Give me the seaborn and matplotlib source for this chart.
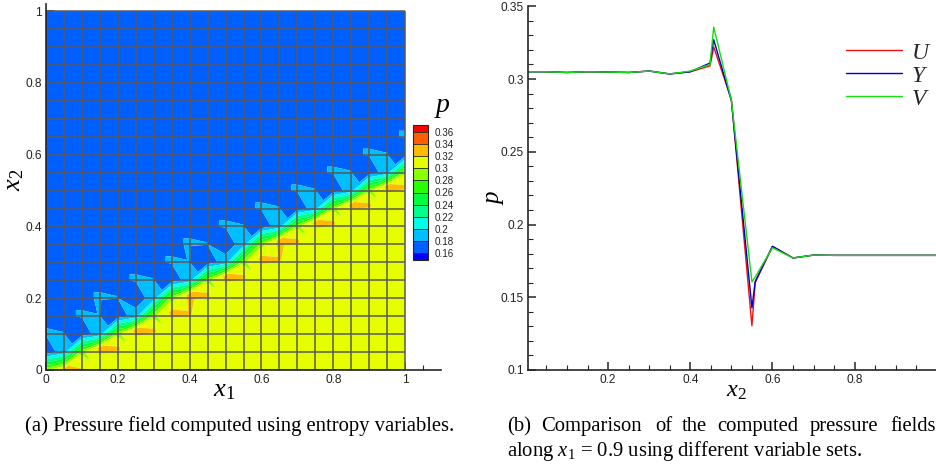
import matplotlib
matplotlib.use("Agg")
import matplotlib.pyplot as plt
import matplotlib.tri as mtri
import seaborn as sns
import pandas as pd
import numpy as np

# mesh nodes of the pressure field
x_nodes = [0.05 * i for i in range(21)]
y_nodes = [0.05 * j for j in range(21)]

# nodal pressure in thousandths, row 0 is x2 = 0
pressure_rows = [
    [295, 328, 322] + [305] * 18,
    [168, 190, 295, 325, 322] + [305] * 16,
    [181, 180.3, 168, 190, 295, 325, 322] + [305] * 14,
    [178, 178, 181, 180.3, 168, 190, 295, 325, 322] + [305] * 12,
    [178, 178, 178, 181, 180.3, 168, 190, 295, 325, 322] + [305] * 11,
    [178] * 4 + [178, 181, 180.3, 168, 190, 295, 325, 322] + [305] * 9,
    [178] * 6 + [178, 181, 180.3, 168, 190, 295, 325, 322] + [305] * 7,
    [178] * 7 + [178, 181, 180.3, 168, 190, 295, 325, 322] + [305] * 6,
    [178] * 9 + [178, 181, 180.3, 168, 190, 295, 325, 322] + [305] * 4,
    [178] * 11 + [178, 181, 180.3, 168, 190, 295, 325, 322] + [305] * 2,
    [178] * 13 + [178, 181, 180.3, 168, 190, 295, 325, 322],
    [178] * 15 + [178, 181, 180.3, 168, 190, 295],
    [178] * 17 + [178, 181, 180.3, 168],
    [178] * 19 + [178, 181],
    [178] * 21,
    [178] * 21,
    [178] * 21,
    [178] * 21,
    [178] * 21,
    [178] * 21,
    [178] * 21,
]

contour_levels = [0.16, 0.18, 0.20, 0.22, 0.24, 0.26, 0.28, 0.30, 0.32, 0.34, 0.36]
level_labels = ["0.16", "0.18", "0.2", "0.22", "0.24", "0.26", "0.28", "0.3", "0.32", "0.34", "0.36"]
band_colors = [
    "#0000ff", "#005fff", "#00bfff", "#00ffe6", "#00ff8c", "#00ff3c",
    "#28ff00", "#8cff00", "#e6ff00", "#ffbb00", "#ff5f00", "#ff0000",
]

# pressure along x1 = 0.9
x2_line = [0.005, 0.05, 0.10, 0.15, 0.20, 0.25, 0.30, 0.35, 0.40, 0.448, 0.457, 0.50,
           0.55, 0.558, 0.60, 0.65, 0.70, 0.75, 0.80, 0.85, 0.90, 0.95, 0.998]
p_u = [0.305, 0.305, 0.3045, 0.305, 0.3048, 0.3045, 0.3055, 0.3035, 0.305, 0.309, 0.322, 0.286,
       0.1304, 0.160, 0.185, 0.177, 0.179, 0.1788, 0.1788, 0.1788, 0.1788, 0.1788, 0.1788]
p_y = [0.305, 0.305, 0.3045, 0.305, 0.3048, 0.3045, 0.3055, 0.3035, 0.305, 0.311, 0.327, 0.285,
       0.1427, 0.161, 0.185, 0.177, 0.179, 0.1788, 0.1788, 0.1788, 0.1788, 0.1788, 0.1788]
p_v = [0.305, 0.305, 0.3045, 0.305, 0.3048, 0.3045, 0.3055, 0.3035, 0.3055, 0.310, 0.3357, 0.2855,
       0.1606, 0.164, 0.184, 0.177, 0.179, 0.1788, 0.1788, 0.1788, 0.1788, 0.1788, 0.1788]

left_ticks = [0, 0.2, 0.4, 0.6, 0.8, 1]
left_labels = ["0", "0.2", "0.4", "0.6", "0.8", "1"]
right_xticks = [0.2, 0.4, 0.6, 0.8]
right_xlabels = ["0.2", "0.4", "0.6", "0.8"]
right_yticks = [0.1, 0.15, 0.2, 0.25, 0.3, 0.35]
right_ylabels = ["0.1", "0.15", "0.2", "0.25", "0.3", "0.35"]

caption_a = "(a) Pressure field computed using entropy variables."
caption_b_words = ["(b)", "Comparison", "of", "the", "computed", "pressure", "fields"]
caption_b_left = [507, 541, 655, 682, 717, 810, 890]
caption_b_second = "along $x_1$ = 0.9 using different variable sets."

W, H = 936, 466
sns.set_theme(style="ticks", rc={
    "mathtext.fontset": "custom",
    "mathtext.rm": "Liberation Serif",
    "mathtext.it": "Liberation Serif:italic",
    "axes.linewidth": 1.2,
})
plt.rcParams["font.family"] = ["Liberation Sans", "DejaVu Sans"]
TICK_COLOR = "#222222"


def axes_box(left, top, right, bottom):
    # pixel box to figure fractions
    return [left / W, 1 - bottom / H, (right - left) / W, (bottom - top) / H]


def put_text(x, y, s, size, family="Liberation Serif", **kwargs):
    fig.text(x / W, 1 - y / H, s, fontsize=size, family=family, color="black", **kwargs)


def style_ticks(ax):
    ax.tick_params(which="major", direction="in", length=5.6, width=1.1, labelsize=8.6,
                   labelcolor=TICK_COLOR, pad=3)
    ax.tick_params(which="minor", direction="in", length=3.5, width=0.8)
    sns.despine(ax=ax)


fig = plt.figure(figsize=(W / 100, H / 100), dpi=100)

# left panel: contour field on the triangulated mesh
ax_field = fig.add_axes(axes_box(46, 4, 441, 370))
xx, yy = np.meshgrid(x_nodes, y_nodes)
pressure = np.array(pressure_rows, dtype=float) / 1000
# the overshoot nodes sit just above their mesh line
yy[1:] += 0.012 * (pressure[1:] > 0.32)
n = len(x_nodes)
flat_p = pressure.ravel()
triangles = []
for j in range(n - 1):
    for i in range(n - 1):
        a, b = j * n + i, j * n + i + 1
        c, d = (j + 1) * n + i + 1, (j + 1) * n + i
        # cells crossed by the shock are split along it
        if np.ptp(flat_p[[a, b, c, d]]) > 0.05:
            triangles += [[a, b, c], [a, c, d]]
        else:
            triangles += [[a, b, d], [b, c, d]]
tri = mtri.Triangulation(xx.ravel(), yy.ravel(), triangles)
field = ax_field.tricontourf(tri, flat_p, levels=contour_levels, colors=band_colors,
                             extend="both", antialiased=True, zorder=1)
ax_field.vlines(x_nodes, 0, 1, color="#585858", lw=1.1, zorder=2)
ax_field.hlines(y_nodes, 0, 1, color="#585858", lw=1.1, zorder=2)
ax_field.set_xlim(0, 1.1)
ax_field.set_ylim(0, 1.02)
ax_field.set_xticks(left_ticks, left_labels)
ax_field.set_yticks(left_ticks, left_labels)
ax_field.set_xticks(np.arange(0, 1.06, 0.05), minor=True)
ax_field.set_yticks(np.arange(0, 1.01, 0.05), minor=True)
style_ticks(ax_field)

cax = fig.add_axes(axes_box(412.5, 125, 428, 260))
bar = fig.colorbar(field, cax=cax, extendrect=True, extendfrac=0.055, drawedges=True)
bar.set_ticks(contour_levels, labels=level_labels)
bar.ax.tick_params(length=0, labelsize=7.1, labelcolor=TICK_COLOR, pad=5)
bar.outline.set_linewidth(0.8)
bar.dividers.set_linewidth(0.6)

# right panel: line comparison
ax_line = fig.add_axes(axes_box(528, 6.3, 936, 370))
lines = pd.DataFrame({"x2": x2_line, "$U$": p_u, "$Y$": p_y, "$V$": p_v})
lines = lines.melt(id_vars="x2", var_name="variables", value_name="p")
sns.lineplot(data=lines, x="x2", y="p", hue="variables", estimator=None, sort=False,
             palette={"$U$": "#f01010", "$Y$": "#0000c0", "$V$": "#10e010"},
             lw=1.0, ax=ax_line)
ax_line.set_xlim(0.005, 0.998)
ax_line.set_ylim(0.1, 0.35)
ax_line.set_xticks(right_xticks, right_xlabels)
ax_line.set_yticks(right_yticks, right_ylabels)
ax_line.set_xticks(np.arange(0.05, 1.0, 0.05), minor=True)
ax_line.set_yticks(np.arange(0.1, 0.351, 0.01), minor=True)
ax_line.set_xlabel("")
ax_line.set_ylabel("")
style_ticks(ax_line)
ax_line.legend(loc="upper left", bbox_to_anchor=(0.75, 0.935), frameon=False, fontsize=17,
               handlelength=2.4, handletextpad=0.35, labelspacing=0.04, borderpad=0, title=None)

# axis names and captions
put_text(224, 391, "$x_1$", 19, ha="center", va="center")
put_text(15, 180, "$x_2$", 19, ha="center", va="center", rotation=90)
put_text(442, 108, "$p$", 20, ha="center", va="center")
put_text(736, 392, "$x_2$", 17.5, ha="center", va="center")
put_text(495, 197, "$p$", 18, ha="center", va="center", rotation=90)

put_text(25, 431, caption_a, 14.9, ha="left", va="baseline")
for word, left in zip(caption_b_words, caption_b_left):
    put_text(left, 431, word, 14.9, ha="left", va="baseline")
put_text(507, 456, caption_b_second, 14.9, ha="left", va="baseline")

fig.savefig("out.png", dpi=100)
